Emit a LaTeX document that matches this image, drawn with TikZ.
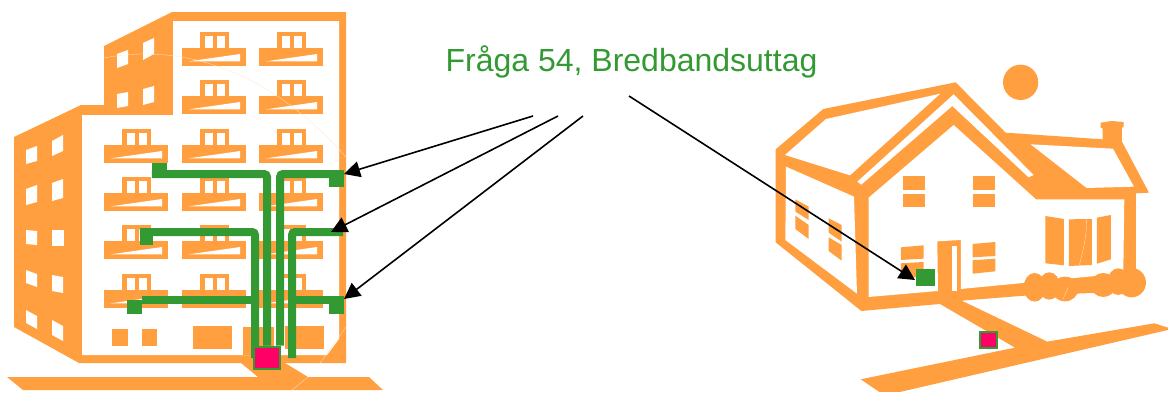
\documentclass[tikz,border=0pt]{standalone}
\usepackage{fontspec}
\setmainfont{Liberation Sans}
\usetikzlibrary{arrows.meta}
\definecolor{bldg}{HTML}{FF9F40}
\definecolor{wiregreen}{HTML}{339933}
\definecolor{hubpink}{HTML}{FF0066}
\definecolor{faint}{HTML}{FFE6CC}
\tikzset{
  solidorange/.style={fill=bldg,draw=none},
  hole/.style={fill=white,draw=none},
  wire/.style={draw=wiregreen,line width=8pt,rounded corners=3pt},
  outlet/.style={fill=wiregreen,draw=none,rectangle,inner sep=0pt},
  hubbox/.style={fill=hubpink,draw=wiregreen,line width=2pt,rectangle,inner sep=0pt},
  pointer/.style={draw=black,line width=1.6pt,-{Triangle[length=16pt,width=16pt]}},
  hairline/.style={draw=faint,line width=0.3pt}
}
\newcommand{\balc}[2]{%
  \begin{scope}[shift={(#1,#2)}]
    \fill[solidorange] (18,0) rectangle (47,16);
    \fill[solidorange] (0,16) rectangle (64,34);
    \fill[hole] (23,4) rectangle (31,16);
    \fill[hole] (35,4) rectangle (43,16);
    \fill[hole] (7,29.3) -- (58,22) -- (58,29.3) -- cycle;
  \end{scope}}
\begin{document}
\begin{tikzpicture}[x=1pt,y=-1pt]
\useasboundingbox (0,0) rectangle (1168,392);
% apartment block
\fill[solidorange] (14,137) -- (81,105) -- (104,105) -- (104,46) -- (172,12) -- (346,12) -- (346,363) -- (79,363) -- (14,327) -- cycle;
\fill[hole] (82,115) -- (173,115) -- (173,21) -- (339,21) -- (339,339) -- (327,355) -- (82,355) -- cycle;
\fill[solidorange] (7,377) -- (258,377) -- (241,363) -- (285,363) -- (308,377) -- (369,377) -- (383,390) -- (23,390) -- cycle;
\foreach \py in {129,177,225,274}{\balc{104}{\py}}
\foreach \py in {32,80,129,177,225,274}{\balc{182}{\py}\balc{259}{\py}}
\foreach \a/\b/\c/\d/\e/\f/\g/\h in {
 26/150/37/146/37/161/26/164, 52/141/63/135/63/151/52/156,
 26/189/37/185/37/202/26/205, 52/183/63/179/63/198/52/201,
 26/230/37/231/37/245/26/244, 52/230/64/230/64/246/52/246,
 26/270/37/274/37/287/26/283, 52/275/63/277/63/293/52/291,
 26/310/37/316/37/329/26/323, 52/320/63/326/63/341/52/335,
 117/54/128/50/128/64/117/68, 143/43/154/38/154/54/143/60,
 117/94/128/92/128/106/117/108, 143/89/154/86/154/102/143/105}
 {\fill[hole] (\a,\b) -- (\c,\d) -- (\e,\f) -- (\g,\h) -- cycle;}
\fill[solidorange] (112,329) rectangle (128,346);
\fill[solidorange] (142,329) rectangle (157,346);
\fill[solidorange] (193,326) rectangle (232,349);
\fill[solidorange] (243,327) rectangle (274,355);
\fill[solidorange] (285,326) rectangle (324,349);
\draw[hairline] (104,58) .. controls (170,45) and (260,60) .. (346,157);
\draw[hairline] (346,327) -- (320,363);
\draw[hairline] (308,377) -- (292,390);
% house
\begin{scope}[shift={(760,50)},x=0.3333pt,y=-0.3333pt]
\fill[solidorange] (782,97) circle [radius=53];
\fill[solidorange] (47,298) -- (190,177) -- (587,97) -- (737,248) -- (1028,268) -- (1028,235) -- (1022,233) -- (1022,218) -- (1055,213) -- (1091,216) -- (1091,232) -- (1086,232) -- (1086,275) -- (1167,428) -- (1128,430) -- (1128,720) -- (795,737) -- (605,752) -- (862,875) -- (1183,820) -- (1224,833) -- (1224,840) -- (420,1026) -- (358,1026) -- (302,988) -- (765,893) -- (540,762) -- (304,783) -- (47,577) -- cycle;
\fill[hole] (75,315) -- (198,207) -- (541,131) -- (270,376) -- cycle;
\fill[hole] (292,395) -- (581,133) -- (821,375) -- (806,382) -- (577,168) -- (304,404) -- cycle;
\fill[hole] (78,350) -- (282,440) -- (291,731) -- (76,570) -- cycle;
\fill[hole] (812,283) -- (1059,296) -- (1122,410) -- (980,414) -- cycle;
\fill[hole] (326,443) -- (581,225) -- (828,448) -- (1093,448) -- (1090,670) -- (603,717) -- (603,570) -- (532,574) -- (534,723) -- (326,741) -- cycle;
\fill[hole] (576,588) rectangle (592,722);
\fill[solidorange] (795,702) -- (1100,683) -- (1100,725) -- (795,737) -- cycle;
\fill[solidorange] (824,712) ellipse [x radius=33,y radius=43];
\fill[solidorange] (868,708) ellipse [x radius=32,y radius=41];
\fill[solidorange] (915,717) ellipse [x radius=40,y radius=37];
\fill[solidorange] (1030,705) ellipse [x radius=38,y radius=36];
\fill[solidorange] (1075,695) ellipse [x radius=32,y radius=40];
\fill[solidorange] (1115,698) ellipse [x radius=43,y radius=44];
\foreach \a/\b/\c/\d/\e/\f/\g/\h in {
 429/378/495/378/495/420/429/420, 429/432/495/432/495/470/429/470,
 639/378/705/378/705/420/639/420, 639/432/705/432/705/470/639/470,
 423/592/491/586/491/626/423/630, 423/640/491/636/491/680/423/685,
 638/582/706/576/706/618/638/622, 638/631/706/626/706/664/638/671,
 856/498/912/507/912/646/856/640, 927/508/996/507/996/645/927/648,
 1011/503/1053/495/1053/628/1011/641,
 106/448/146/470/146/510/106/485, 106/497/146/525/146/567/106/537,
 206/505/245/525/245/575/206/548, 206/562/245/585/245/632/206/603}
 {\fill[solidorange] (\a,\b) -- (\c,\d) -- (\e,\f) -- (\g,\h) -- cycle;}
\draw[hairline] (980,510) .. controls (980,560) and (970,600) .. (958,645);
\draw[hairline] (925,712) -- (908,750);
\end{scope}
% outlets and hubs
\node[outlet,minimum width=15pt,minimum height=14pt] (outTL) at (159.5,170) {};
\node[outlet,minimum width=15pt,minimum height=17pt] (outTR) at (336.5,178.5) {};
\node[outlet,minimum width=13pt,minimum height=16pt] (outML) at (146.5,237) {};
\node[outlet,minimum width=15pt,minimum height=14pt] (outBL) at (134,307) {};
\node[outlet,minimum width=15pt,minimum height=17pt] (outBR) at (336.5,305.5) {};
\node[outlet,minimum width=19pt,minimum height=16.5pt] (outH) at (925.5,277.5) {};
\node[hubbox,minimum width=26pt,minimum height=22pt] (hub) at (266.5,357.5) {};
\node[hubbox,minimum width=17pt,minimum height=15.5pt] (hubH) at (988,340) {};
\coordinate (endMR) at (343,232);
\coordinate (endBM) at (255,300);
\coordinate (endBMr) at (292,300);
% wiring
\draw[wire] (outTL.west |- 0,174) -- (267,174) -- (267,0 |- hub.north);
\draw[wire] (280,0 |- hub.north) -- (280,174) -- (outTR.east |- 0,174);
\draw[wire] (outML.west |- 0,232) -- (255,232) -- (255,358);
\draw[wire] (292,358) -- (292,232) -- (endMR);
\draw[wire] (outBL.east |- endBM) -- (endBM);
\draw[wire] (endBMr) -- (outBR.east |- endBMr);
\node[hubbox,minimum width=26pt,minimum height=22pt] at (hub.center) {};
% label and pointers
\node[text=wiregreen,font=\fontsize{32}{38}\selectfont,inner sep=0pt] (label) at (631.5,62) {Fråga 54, Bredbandsuttag};
\coordinate (startA) at (533,116);
\coordinate (startB) at (558,116);
\coordinate (startC) at (583,116);
\coordinate (startD) at (629,96);
\coordinate (tipA) at (344,174);
\coordinate (tipB) at (331,232);
\coordinate (tipC) at (344,299);
\coordinate (tipD) at (915,280);
\draw[pointer] (startA) -- (tipA);
\draw[pointer] (startB) -- (tipB);
\draw[pointer] (startC) -- (tipC);
\draw[pointer] (startD) -- (tipD);
\end{tikzpicture}
\end{document}
